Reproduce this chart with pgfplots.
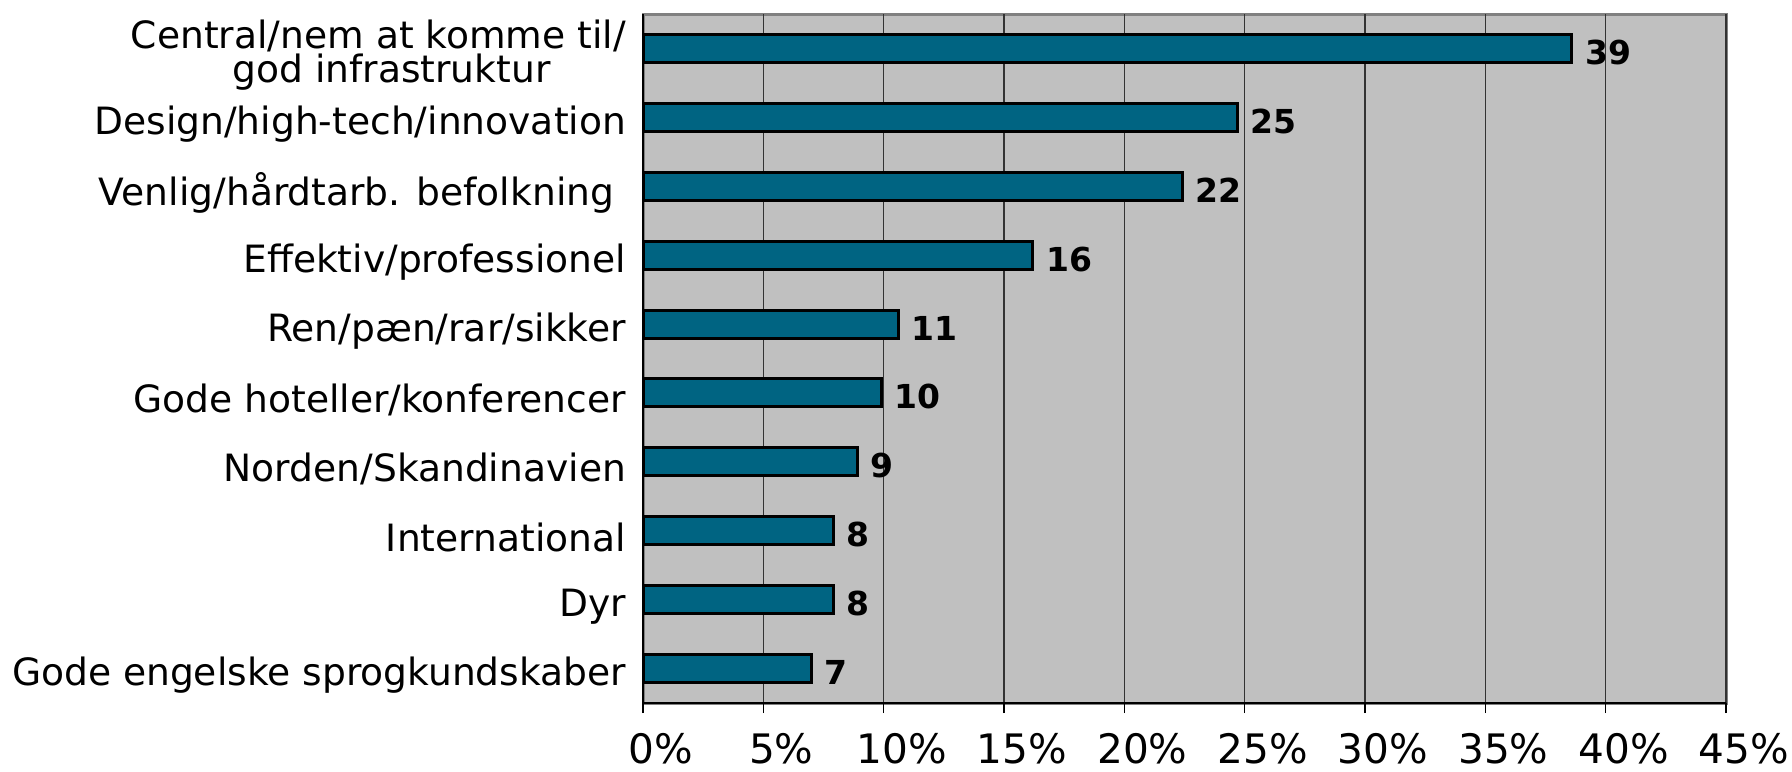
\documentclass[border=0pt]{standalone}
\usepackage{pgfplots}
\pgfplotsset{compat=1.18}
\usepackage{pgfplotstable}
\usepackage{fontspec}
\setmainfont{DejaVu Sans}

\definecolor{barteal}{RGB}{0,100,130}
\definecolor{plotgray}{RGB}{192,192,192}
\definecolor{framegray}{RGB}{128,128,128}

% share of respondents per association (percent)
\pgfplotstableread{
pos share
0 38.6
1 24.7
2 22.4
3 16.2
4 10.6
5 9.9
6 8.9
7 7.9
8 7.9
9 7.0
}\assoc

\begin{document}
\begin{tikzpicture}[x=1pt,y=1pt]
\path[use as bounding box] (0,0) rectangle (896,385.5);
\begin{axis}[
  at={(321.5pt,34pt)}, anchor=south west,
  scale only axis, width=541.5pt, height=344.5pt,
  xmin=0, xmax=45, ymin=-0.5, ymax=9.5, y dir=reverse,
  axis x line*=bottom, axis y line*=left,
  axis line style={black, line width=1pt},
  axis background/.style={fill=plotgray, draw=framegray, line width=1.5pt},
  xtick={0,5,...,45},
  xticklabels={0\%,5\%,10\%,15\%,20\%,25\%,30\%,35\%,40\%,45\%},
  xticklabel style={font=\fontsize{20.3}{24}\selectfont, inner sep=0pt, xshift=9pt, yshift=-10pt},
  xmajorgrids, major grid style={black!80, line width=0.6pt},
  ytick={0,...,9},
  yticklabels={
    {Central/nem at komme til/\\god infrastruktur\hspace*{37.7pt}},
    Design/high-tech/innovation,
    {Venlig/hårdtarb. befolkning\hspace*{5.9pt}},
    Effektiv/professionel,
    Ren/pæn/rar/sikker,
    Gode hoteller/konferencer,
    Norden/Skandinavien,
    International,
    Dyr,
    Gode engelske sprogkundskaber},
  yticklabel style={font=\fontsize{18.8}{15.6}\selectfont, align=right, yshift=-3.5pt},
  ytick style={draw=none},
  minor ytick={-0.5,0.5,...,9.5},
  minor y tick style={black, line width=0.6pt},
  x tick style={black, line width=0.6pt},
  tick align=outside,
  major tick length=5pt, minor tick length=5pt,
  xbar, bar width=14pt,
  point meta=x,
  nodes near coords={\pgfmathprintnumber[fixed,precision=0,assume math mode=true]{\pgfplotspointmeta}},
  nodes near coords style={font=\fontsize{16.5}{19}\selectfont\bfseries, anchor=west, xshift=2.5pt, yshift=-2pt},
]
\addplot[fill=barteal, draw=black, line width=1.5pt] table[x=share, y=pos] {\assoc};
\end{axis}
\end{tikzpicture}
\end{document}
